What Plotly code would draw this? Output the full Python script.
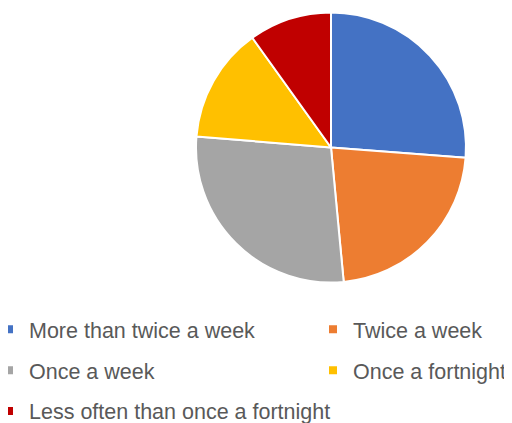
import plotly.graph_objects as go

categories = ["More than twice a week", "Twice a week", "Once a week",
              "Once a fortnight", "Less often than once a fortnight"]
values = [26.2, 22.3, 27.8, 13.8, 9.9]
colors = ["#4472C4", "#ED7D31", "#A5A5A5", "#FFC000", "#C00000"]
legend_column = ["legend", "legend2", "legend", "legend2", "legend"]

# page body adds an 8px margin, so the figure is drawn 8px in from the window edge
W, H = 504, 415
cx, cy, r = 323, 139.5, 135

fig = go.Figure()
fig.add_trace(go.Pie(
    labels=categories, values=values, sort=False, direction="clockwise",
    rotation=0, textinfo="none", hoverinfo="label+percent", showlegend=False,
    marker=dict(colors=colors, line=dict(color="white", width=2)),
    domain=dict(x=[(cx - r) / W, (cx + r) / W], y=[1 - (cy + r) / H, 1 - (cy - r) / H]),
))
for name, col, lg in zip(categories, colors, legend_column):
    fig.add_trace(go.Scatter(
        x=[None], y=[None], mode="markers", name=name, legend=lg, legendgroup=name,
        marker=dict(symbol="square", size=8, color=col), hoverinfo="skip",
    ))

legend_font = dict(family="Liberation Sans, Arial", size=21.5, color="#595959")
fig.update_layout(
    width=W, height=H, margin=dict(l=0, r=0, t=0, b=0, autoexpand=False),
    paper_bgcolor="white", plot_bgcolor="white",
    font=legend_font,
    xaxis=dict(visible=False), yaxis=dict(visible=False),
    legend=dict(x=-19 / W, xanchor="left", y=0.2754, yanchor="top", traceorder="grouped",
                tracegroupgap=10, font=legend_font, bgcolor="rgba(0,0,0,0)"),
    legend2=dict(x=1.0, xanchor="right", y=0.2754, yanchor="top", traceorder="grouped",
                 tracegroupgap=10, font=legend_font, bgcolor="rgba(0,0,0,0)"),
)
fig.write_html("out.html")
